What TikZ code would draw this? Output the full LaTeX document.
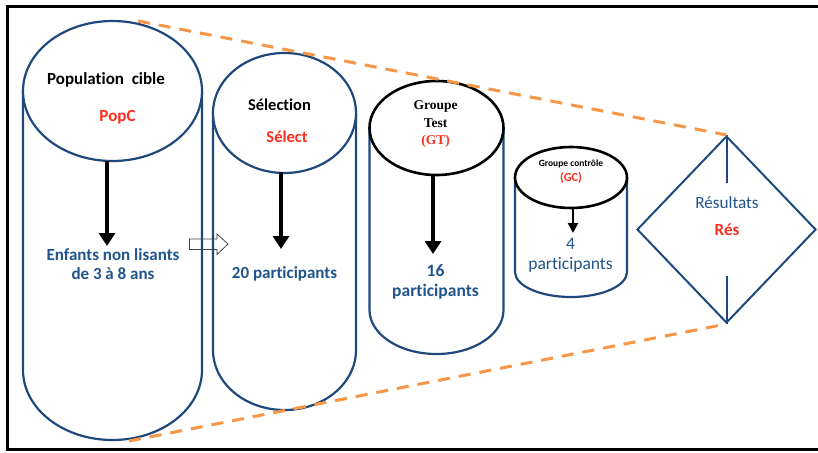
\documentclass[tikz,border=0pt]{standalone}
\usepackage{fontspec}
\setmainfont{Carlito}[Ligatures=NoCommon]
\newfontfamily\tms{Liberation Serif}
\usetikzlibrary{arrows.meta,shapes.geometric}
\definecolor{cylblue}{RGB}{31,73,125}
\definecolor{txtblue}{RGB}{31,84,140}
\definecolor{myred}{RGB}{255,45,30}
\definecolor{myorange}{RGB}{247,150,70}
\begin{document}
\begin{tikzpicture}[x=1pt,y=-1pt,
  cylbody/.style={draw=cylblue,line width=2.2pt},
  blacktop/.style={draw=black,line width=2.6pt,fill=white},
  bluetop/.style={draw=cylblue,line width=2.2pt,fill=white},
  bigarrow/.style={line width=4.5pt,-{Triangle[length=13pt,width=16pt]}},
  smallarrow/.style={line width=2.4pt,-{Triangle[length=10pt,width=10pt]}},
  dashline/.style={draw=myorange,line width=3pt,dash pattern=on 12pt off 9pt},
  lbl/.style={inner sep=0pt,align=center,font=\fontsize{17}{19}\selectfont\bfseries},
  blk/.style={lbl,text=black},
  redt/.style={lbl,text=myred},
  bluet/.style={lbl,text=txtblue},
]
\useasboundingbox (0,0) rectangle (818,452);
% frame
\draw[line width=3pt] (830,6.5) -- (7.5,6.5) -- (7.5,449) -- (830,449);

% cylinder 1
\draw[cylbody] (23,91) -- (23,370) arc[start angle=180,end angle=0,x radius=89.5,y radius=70] -- (202,91);
\draw[bluetop] (112.5,91) ellipse[x radius=89.5,y radius=70];
% cylinder 2
\draw[cylbody] (213,113) -- (213,350) arc[start angle=180,end angle=0,x radius=71.5,y radius=60] -- (356,113);
\draw[bluetop] (284.5,113) ellipse[x radius=71.5,y radius=60];
% cylinder 3
\draw[cylbody] (369.5,128) -- (369.5,310) arc[start angle=180,end angle=0,x radius=67,y radius=44] -- (503.5,128);
\draw[blacktop] (436.5,128) ellipse[x radius=67,y radius=47];
% cylinder 4
\draw[cylbody] (515,177.5) -- (515,272) arc[start angle=180,end angle=0,x radius=56,y radius=25] -- (627,177.5);
\draw[blacktop] (571,177.5) ellipse[x radius=56,y radius=30.5];

% diamond
\node[draw=cylblue,line width=2pt,diamond,minimum width=179pt,minimum height=187pt,aspect=0.957,inner sep=0pt] (res) at (726.5,229.5) {};
\coordinate (rtop) at (726.5,183);
\coordinate (rbot) at (726.5,276);
\draw[draw=cylblue,line width=2pt] (res.north) -- (rtop);
\draw[draw=cylblue,line width=2pt] (rbot) -- (res.south);

% dashed lines
\coordinate (dtop) at (138,21);
\coordinate (dbot) at (129,441);
\draw[dashline] (dtop) -- (res.north);
\draw[dashline] (dbot) -- (res.south);

% texts
\node[blk] (popcible) at (106,80) {Population\ \ cible};
\node[redt] (popc) at (117.5,117) {PopC};
\node[bluet] (enf) at (113,264) {Enfants non lisants\\de 3 à 8 ans};
\node[blk,font=\fontsize{16.5}{19}\selectfont\bfseries] (sel) at (279.5,105) {Sélection};
\node[redt,font=\fontsize{16.5}{19}\selectfont\bfseries] (selr) at (287,137) {Sélect};
\node[bluet] (p20) at (284.5,274) {20 participants};
\node[blk,font=\tms\fontsize{13.5}{18}\selectfont\bfseries] (gt) at (435.5,114) {Groupe\\Test};
\node[redt,font=\tms\fontsize{13.5}{18}\selectfont\bfseries] (gtr) at (435.5,141) {(GT)};
\node[bluet,font=\fontsize{17.5}{20}\selectfont\bfseries] (p16) at (435.5,282) {16\\participants};
\node[blk,font=\fontsize{9.5}{11}\selectfont\bfseries] (gc) at (571,164) {Groupe contrôle};
\node[redt,font=\fontsize{12.3}{14}\selectfont\bfseries] (gcr) at (571,178) {(GC)};
\node[bluet,font=\fontsize{17.5}{20}\selectfont] (p4) at (570.5,255) {4\\participants};
\node[bluet,font=\fontsize{17.2}{20}\selectfont] (resl) at (727,203) {Résultats};
\node[redt] (resr) at (727,230) {Rés};

% black arrows
\coordinate (a1s) at (107,161); \coordinate (a1e) at (107,246);
\coordinate (a2s) at (281,172); \coordinate (a2e) at (281,249);
\coordinate (a3s) at (433,175); \coordinate (a3e) at (433,254);
\coordinate (a4s) at (573,208); \coordinate (a4e) at (573,233);
\draw[bigarrow] (a1s) -- (a1e);
\draw[bigarrow] (a2s) -- (a2e);
\draw[bigarrow] (a3s) -- (a3e);
\draw[smallarrow] (a4s) -- (a4e);

% block arrow
\draw[line width=0.8pt,draw=black!75] (189.5,239) -- (217,239) -- (217,234) -- (228,244) -- (217,254.5) -- (217,249.5) -- (189.5,249.5) -- cycle;
\end{tikzpicture}
\end{document}
